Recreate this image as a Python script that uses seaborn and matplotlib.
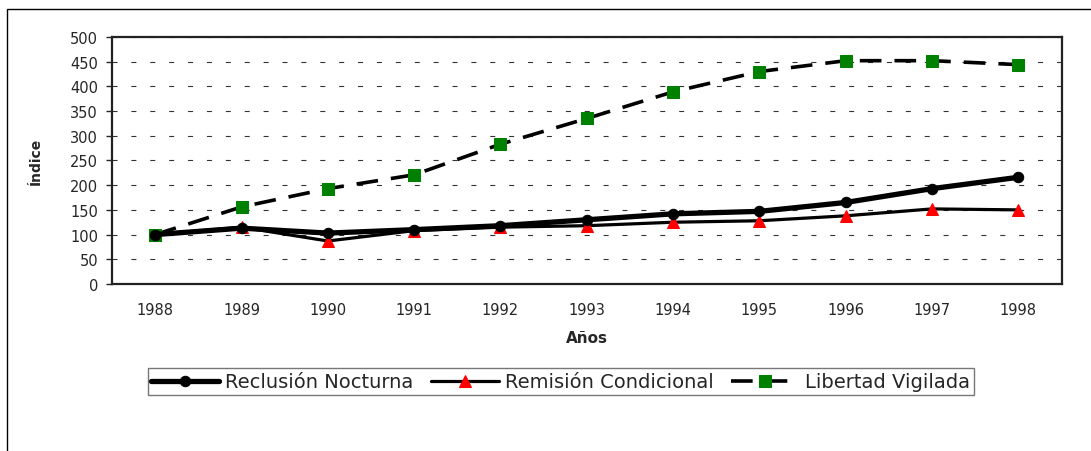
import pandas as pd
import matplotlib.pyplot as plt
import seaborn as sns
from matplotlib.patches import Rectangle

# Data
years = ['1988', '1989', '1990', '1991', '1992', '1993', '1994', '1995', '1996', '1997', '1998']
reclusion = [100, 113, 103, 110, 118, 130, 142, 147, 165, 193, 216]
remision = [100, 115, 87, 108, 115, 118, 125, 128, 138, 152, 150]
libertad = [100, 156, 193, 221, 283, 335, 389, 430, 452, 452, 444]

sns.set_style('white')
plt.rcParams['font.family'] = ['DejaVu Sans']

df = pd.DataFrame({'pos': range(len(years)),
                   'Reclusión Nocturna': reclusion,
                   'Remisión Condicional': remision,
                   'Libertad Vigilada': libertad})

fig = plt.figure(figsize=(10.91, 4.52), dpi=100)
ax = fig.add_axes([0.1027, 0.3695, 0.8703, 0.5465])

sns.lineplot(data=df, x='pos', y='Reclusión Nocturna', ax=ax, color='black',
             linewidth=3.8, marker='o', markersize=7.5, markerfacecolor='black',
             markeredgecolor='black', label='Reclusión Nocturna', zorder=4)
sns.lineplot(data=df, x='pos', y='Remisión Condicional', ax=ax, color='black',
             linewidth=2.3, marker='^', markersize=9, markerfacecolor='red',
             markeredgecolor='red', label='Remisión Condicional', zorder=3)
sns.lineplot(data=df, x='pos', y='Libertad Vigilada', ax=ax, color='black',
             linewidth=2.6, marker='s', markersize=8, markerfacecolor='green',
             markeredgecolor='green', label='Libertad Vigilada', zorder=3,
             dashes=False)
ax.lines[-1].set_dashes([6, 3.6])

ax.set_xlim(-0.5, len(years) - 0.5)
ax.set_ylim(0, 500)
ax.set_yticks(range(0, 501, 50))
ax.set_xticks(range(len(years)))
ax.set_xticklabels(years)
ax.set_xticks([i + 0.5 for i in range(len(years) - 1)], minor=True)
ax.tick_params(axis='x', which='major', length=0, pad=13, labelsize=10.5)
ax.tick_params(axis='x', which='minor', length=4, direction='in', width=1)
ax.tick_params(axis='y', length=4, direction='out', width=1, labelsize=10.5, pad=6, left=True)

ax.yaxis.grid(True, linestyle=(0, (4.5, 12.5)), color='#333333', linewidth=0.8)
ax.set_axisbelow(True)
for s in ax.spines.values():
    s.set_color('#222222')
    s.set_linewidth(1.6)

ax.set_xlabel('Años', fontsize=11, fontweight='bold', labelpad=9)
ax.set_ylabel('Índice', fontsize=10, fontweight='bold', labelpad=20)

ax.legend_.remove()
handles, labels = ax.get_legend_handles_labels()
leg = fig.legend(handles, labels, ncol=3, loc='center', bbox_to_anchor=(0.514, 0.153),
                 frameon=True, fancybox=False, edgecolor='#555555', fontsize=14,
                 handlelength=3.5, handletextpad=0.3, columnspacing=0.9,
                 borderpad=0.2)
leg.get_frame().set_linewidth(1.0)

# outer chart frame
fig.patches.append(Rectangle((7 / 1091, -0.05), 1.1, 1 - 10 / 452 + 0.05,
                             transform=fig.transFigure, fill=False,
                             edgecolor='black', linewidth=1.0))

fig.savefig('out.png', dpi=100)
